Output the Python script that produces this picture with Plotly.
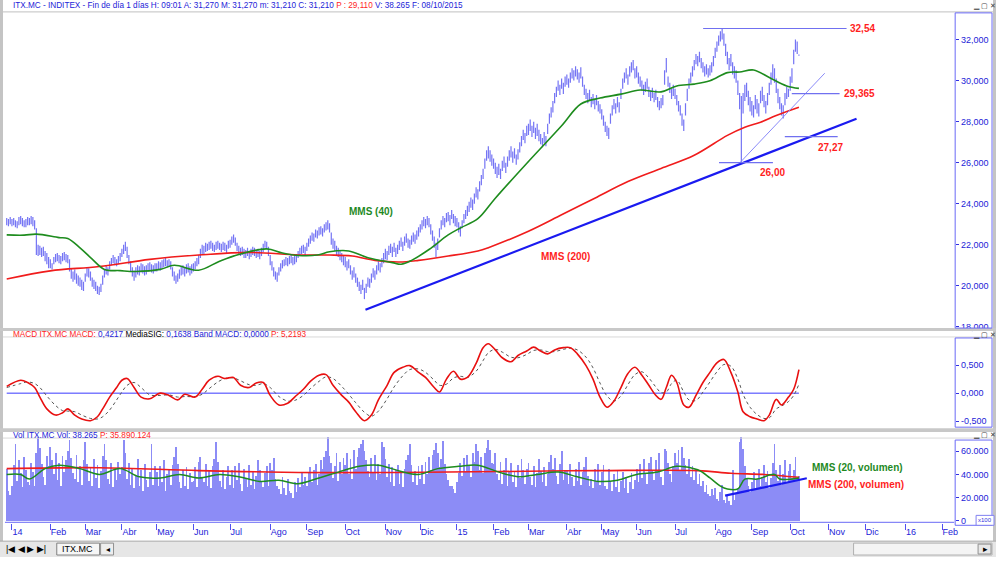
import pandas as pd
import plotly.graph_objects as go

# ---------------- data ----------------
holidays = ["2014-01-01", "2014-04-18", "2014-04-21", "2014-05-01", "2014-12-25", "2014-12-26",
            "2015-01-01", "2015-04-03", "2015-04-06", "2015-05-01"]

highs = [
    23.30, 23.25, 23.35,
    23.25, 23.30, 23.20, 23.15, 23.35, 23.40, 23.30, 23.20, 23.25, 23.35, 23.30, 23.40, 23.35, 23.20, 22.80, 22.00, 21.95, 21.85, 21.90, 21.70, 21.60, 21.40,
    21.30, 21.10, 21.40, 21.55, 21.60, 21.50, 21.45, 21.60, 21.65, 21.55, 21.50, 21.30, 20.85, 20.70, 20.80, 20.60, 20.50, 20.40, 20.30, 20.20,
    20.60, 20.90, 20.85, 20.70, 20.40, 20.30, 20.20, 20.00, 19.95, 20.10, 20.50, 20.80, 21.00, 20.90, 21.20, 21.35, 21.50, 21.40, 21.30, 21.45, 21.60,
    21.80, 22.00, 22.15, 21.90, 21.50, 21.20, 20.90, 20.75, 20.90, 21.00, 20.95, 21.10, 21.05, 20.95, 21.00, 21.10, 21.15, 21.05, 21.00, 21.10,
    21.10, 21.20, 21.15, 21.25, 21.30, 21.35, 21.25, 21.30, 21.20, 20.90, 20.70, 20.50, 20.60, 20.80, 20.95, 21.00, 20.90, 21.05, 21.10, 20.95, 21.05,
    21.10, 21.20, 21.35, 21.50, 21.80, 22.00, 21.95, 22.10, 22.05, 22.15, 22.20, 22.10, 22.00, 22.15, 22.20, 22.10, 22.05, 22.15, 22.10, 22.00, 22.20,
    22.25, 22.40, 22.50, 22.35, 22.10, 21.95, 21.85, 21.90, 21.80, 21.75, 21.85, 21.70, 21.80, 21.90, 21.85, 21.75, 21.80, 21.70, 21.85, 22.05, 22.20, 22.15, 21.90,
    21.50, 21.20, 20.90, 20.70, 20.65, 20.90, 21.10, 21.25, 21.30, 21.40, 21.35, 21.45, 21.50, 21.40, 21.45, 21.55, 21.70, 21.85, 21.95, 22.00, 21.90,
    22.10, 22.30, 22.45, 22.60, 22.55, 22.75, 22.70, 22.85, 22.90, 22.80, 23.00, 23.10, 23.20, 23.05, 22.60, 22.30, 22.20, 21.95, 21.85, 21.70, 21.60, 21.50,
    21.40, 21.20, 21.30, 21.00, 20.75, 20.90, 20.60, 20.40, 20.20, 20.05, 20.30, 19.90, 20.10, 20.40, 20.35, 20.60, 20.85, 20.75, 21.00, 21.20, 21.10, 21.35, 21.60,
    21.80, 21.70, 21.95, 22.05, 21.90, 22.10, 21.85, 22.00, 22.20, 22.35, 22.15, 22.40, 22.55, 22.30, 22.25, 22.45, 22.60, 22.50, 22.70, 22.85,
    23.00, 23.20, 23.35, 23.25, 23.40, 23.30, 23.00, 22.70, 22.40, 22.10, 22.30, 22.80, 23.20, 23.40, 23.30, 23.55, 23.60, 23.45, 23.70, 23.50, 23.40,
    23.30, 23.10, 22.90, 23.20, 23.50, 23.70, 23.90, 24.10, 24.30, 24.20, 24.50, 24.80, 24.70, 25.10, 25.40, 25.70, 26.20, 26.60, 26.80, 26.60, 26.40,
    26.20, 26.00, 25.80, 25.95, 25.70, 26.10, 26.30, 26.00, 26.30, 26.60, 26.80, 26.55, 26.70, 26.40, 26.65, 27.00, 27.30, 27.60, 27.45, 27.80,
    27.90, 28.10, 27.80, 28.00, 27.70, 27.90, 27.60, 27.40, 27.20, 27.50, 27.30, 27.90, 28.40, 28.70, 29.00, 29.40, 29.70, 30.00, 29.80, 30.10, 29.90, 30.20,
    30.30, 30.10, 30.40, 30.60, 30.50, 30.70, 30.55, 30.40, 30.65, 30.20, 29.80, 29.60, 29.40, 29.55, 29.20, 29.35, 29.10, 29.30, 29.00, 28.85,
    28.60, 28.30, 28.00, 27.80, 27.70, 28.40, 28.80, 29.10, 28.90, 29.20, 28.95, 29.60, 30.10, 30.40, 30.60, 30.30, 30.70, 30.90, 31.00, 30.60,
    30.70, 30.40, 30.20, 30.00, 29.80, 29.95, 30.10, 29.70, 29.50, 29.65, 29.40, 29.55, 29.20, 29.00, 29.15, 29.30, 30.50, 31.10, 30.20, 29.90, 29.60, 29.80,
    29.60, 29.30, 29.00, 28.80, 28.40, 28.10, 28.90, 29.60, 30.10, 30.40, 30.70, 31.00, 31.30, 31.20, 31.40, 31.10, 30.90, 30.70, 30.80, 30.60, 30.75, 30.90, 31.20,
    31.60, 31.90, 32.20, 32.40, 32.54, 32.30, 31.80, 31.40, 31.10, 31.30, 30.90, 30.70, 30.50, 30.00, 29.40, 29.25, 29.40, 29.80, 29.90, 29.50, 29.20,
    29.00, 28.80, 29.30, 29.10, 28.90, 29.50, 29.70, 29.30, 29.00, 29.40, 29.90, 30.40, 30.80, 30.60, 30.10, 29.60, 29.20, 28.90, 28.80, 29.40, 29.70, 29.60,
    30.20, 30.60, 31.50, 32.00, 31.90, 31.27,
]

lows = [
    22.95, 22.90, 23.00,
    22.90, 22.95, 22.85, 22.80, 22.95, 23.00, 22.90, 22.85, 22.85, 22.95, 22.95, 23.00, 22.90, 22.75, 21.50, 21.45, 21.50, 21.40, 21.45, 21.20, 21.05, 20.85,
    20.85, 20.80, 21.05, 21.15, 21.20, 21.10, 21.05, 21.20, 21.25, 21.15, 21.10, 20.70, 20.35, 20.20, 20.30, 20.10, 20.00, 19.95, 19.80, 19.75,
    20.20, 20.45, 20.40, 20.25, 19.95, 19.85, 19.75, 19.60, 19.55, 19.70, 20.05, 20.40, 20.55, 20.50, 20.80, 21.00, 21.10, 21.00, 20.95, 21.05, 21.20,
    21.40, 21.55, 21.70, 21.35, 21.05, 20.70, 20.45, 20.25, 20.40, 20.55, 20.50, 20.65, 20.60, 20.50, 20.55, 20.70, 20.75, 20.65, 20.60, 20.70,
    20.70, 20.80, 20.75, 20.85, 20.90, 20.95, 20.90, 20.95, 20.80, 20.45, 20.25, 20.10, 20.20, 20.35, 20.50, 20.55, 20.45, 20.60, 20.65, 20.50, 20.60,
    20.70, 20.80, 20.95, 21.05, 21.35, 21.55, 21.50, 21.65, 21.70, 21.75, 21.80, 21.70, 21.65, 21.75, 21.80, 21.75, 21.65, 21.75, 21.70, 21.60, 21.80,
    21.85, 22.00, 22.10, 21.95, 21.70, 21.55, 21.45, 21.50, 21.35, 21.35, 21.45, 21.30, 21.40, 21.50, 21.45, 21.35, 21.40, 21.30, 21.45, 21.65, 21.85, 21.80, 21.45,
    21.00, 20.75, 20.45, 20.30, 20.20, 20.50, 20.70, 20.85, 20.95, 21.00, 20.95, 21.05, 21.10, 21.00, 21.05, 21.15, 21.35, 21.45, 21.55, 21.60, 21.50,
    21.70, 21.90, 22.05, 22.20, 22.15, 22.35, 22.30, 22.45, 22.50, 22.40, 22.60, 22.70, 22.75, 22.60, 22.00, 21.80, 21.70, 21.50, 21.40, 21.25, 21.15, 21.00,
    20.90, 20.75, 20.85, 20.55, 20.30, 20.40, 20.15, 19.95, 19.75, 19.60, 19.80, 19.35, 19.65, 19.95, 19.90, 20.15, 20.40, 20.30, 20.55, 20.75, 20.65, 20.90, 21.10,
    21.30, 21.25, 21.50, 21.60, 21.40, 21.65, 21.40, 21.55, 21.75, 21.90, 21.70, 21.95, 22.10, 21.85, 21.80, 22.00, 22.15, 22.05, 22.25, 22.40,
    22.60, 22.75, 22.90, 22.80, 22.95, 22.85, 22.50, 22.20, 21.85, 21.40, 21.75, 22.35, 22.75, 22.95, 22.85, 23.10, 23.15, 22.95, 23.25, 23.05, 22.90,
    22.85, 22.60, 22.40, 22.80, 23.05, 23.25, 23.40, 23.60, 23.80, 23.70, 24.00, 24.30, 24.20, 24.60, 24.90, 25.20, 25.70, 26.10, 26.20, 26.05, 25.85,
    25.70, 25.45, 25.25, 25.40, 25.20, 25.60, 25.75, 25.50, 25.80, 26.10, 26.25, 26.00, 26.20, 25.90, 26.15, 26.50, 26.80, 27.10, 26.95, 27.30,
    27.35, 27.55, 27.25, 27.45, 27.15, 27.30, 27.05, 26.90, 26.75, 26.95, 26.80, 27.40, 27.90, 28.20, 28.45, 28.90, 29.20, 29.50, 29.30, 29.60, 29.35, 29.70,
    29.80, 29.65, 29.90, 30.10, 30.00, 30.20, 30.05, 29.90, 30.10, 29.70, 29.30, 29.10, 28.90, 29.05, 28.70, 28.85, 28.60, 28.80, 28.50, 28.40,
    28.10, 27.80, 27.50, 27.30, 27.15, 27.90, 28.30, 28.60, 28.40, 28.70, 28.45, 29.10, 29.60, 29.90, 30.10, 29.80, 30.20, 30.40, 30.50, 30.10,
    30.15, 29.85, 29.70, 29.50, 29.30, 29.45, 29.60, 29.20, 29.00, 29.15, 28.95, 29.05, 28.70, 28.55, 28.65, 28.80, 29.80, 30.40, 29.70, 29.40, 29.10, 29.25,
    29.10, 28.80, 28.50, 28.30, 27.80, 27.55, 28.30, 29.00, 29.60, 29.90, 30.20, 30.50, 30.80, 30.70, 30.90, 30.60, 30.40, 30.20, 30.30, 30.15, 30.25, 30.40, 30.70,
    31.10, 31.40, 31.70, 31.90, 32.00, 31.70, 31.20, 30.80, 30.50, 30.70, 30.30, 30.10, 29.90, 29.30, 28.60, 26.00, 28.40, 29.00, 29.20, 28.80, 28.50,
    28.30, 28.20, 28.60, 28.40, 28.25, 28.90, 29.00, 28.70, 28.40, 28.80, 29.30, 29.80, 30.10, 29.90, 29.40, 28.90, 28.60, 28.30, 28.15, 28.80, 29.10, 29.20,
    29.50, 29.90, 30.80, 31.40, 31.30, 31.21,
]

# daily volume, thousands (x100 shares)
volume_k = [
    45, 26, 22,
    30, 48, 66, 34, 52, 41, 29, 55, 44, 33, 31, 50, 42, 30, 58, 72, 63, 49, 38, 31, 56, 47,
    64, 52, 40, 58, 35, 50, 30, 56, 42, 52, 60, 70, 54, 41, 36, 57, 33, 47, 31, 52,
    68, 49, 34, 46, 30, 53, 37, 48, 28, 43, 56, 66, 52, 36, 32, 50, 29, 45, 35, 51, 40,
    46, 70, 58, 36, 50, 31, 45, 28, 39, 53, 30, 44, 26, 49, 35, 29, 42, 66, 31, 47,
    42, 30, 47, 33, 52, 26, 40, 45, 31, 48, 55, 64, 49, 33, 28, 44, 30, 46, 27, 41, 33,
    34, 46, 29, 51, 55, 38, 33, 49, 30, 43, 28, 47, 53, 68, 51, 34, 29, 44, 27, 38, 47,
    31, 44, 28, 47, 35, 50, 32, 26, 45, 37, 29, 48, 31, 43, 27, 39, 52, 44, 33, 29, 41, 47, 30,
    50, 44, 54, 36, 30, 27, 23, 38, 28, 22, 36, 26, 24, 20, 33, 25, 37, 29, 42, 31, 38,
    30, 41, 46, 33, 44, 49, 31, 40, 52, 45, 55, 60, 72, 56, 50, 37, 47, 58, 34, 51, 40, 54,
    48, 58, 40, 53, 36, 61, 45, 55, 63, 66, 70, 60, 52, 43, 38, 54, 41, 57, 35, 49, 40, 68, 64,
    53, 38, 49, 33, 46, 30, 44, 48, 32, 42, 29, 45, 52, 57, 66, 48, 33, 43, 31, 47,
    36, 48, 32, 51, 40, 55, 44, 57, 61, 67, 58, 46, 53, 69, 49, 40, 35, 30, 30, 27, 24,
    33, 41, 50, 39, 54, 42, 57, 48, 38, 58, 51, 66, 60, 44, 55, 41, 58, 63, 70, 61, 50,
    49, 58, 40, 35, 51, 32, 44, 54, 30, 43, 50, 33, 42, 29, 48, 37, 53, 44, 32, 45,
    50, 38, 31, 47, 29, 41, 53, 43, 33, 46, 30, 40, 51, 57, 45, 54, 39, 32, 49, 60, 35, 44,
    44, 32, 49, 38, 30, 45, 34, 51, 31, 42, 46, 55, 39, 30, 36, 28, 45, 33, 49, 31,
    42, 48, 30, 27, 45, 33, 26, 40, 29, 44, 25, 34, 42, 28, 38, 24, 33, 41, 27, 35,
    45, 33, 49, 37, 53, 41, 32, 50, 55, 44, 35, 52, 43, 58, 38, 31, 62, 60, 50, 40, 33, 47,
    58, 50, 61, 44, 64, 54, 48, 40, 53, 38, 47, 35, 44, 32, 40, 30, 34, 25, 31, 23, 21, 27, 22,
    28, 19, 17, 25, 31, 18, 15, 22, 17, 14, 44, 18, 24, 28, 68, 72, 62, 47, 36, 30, 25,
    33, 42, 27, 36, 45, 30, 38, 48, 33, 43, 28, 37, 50, 66, 44, 34, 48, 31, 40, 52, 33, 43,
    49, 37, 44, 55, 36, 38.3,
]

# moving averages (trading-day index -> value)
ma40_idx = [0, 10, 17, 30, 35, 42, 49, 56, 65, 74, 88, 96, 110, 122, 133, 149, 158, 167, 178, 185,
            196, 207, 221, 226, 232, 242, 253, 260, 270, 280, 299, 318, 329, 340, 352, 363, 375, 384,
            394, 403, 413, 420, 428, 437, 447, 454]
ma40_vals = [22.48, 22.47, 22.52, 22.35, 22.30, 21.85, 21.30, 20.80, 20.74, 20.70, 20.80, 21.00, 20.76,
             21.20, 21.53, 21.80, 21.60, 21.48, 21.50, 21.66, 21.70, 21.37, 21.13, 21.05, 21.24, 21.77,
             22.48, 22.82, 23.27, 24.27, 26.06, 27.80, 28.86, 29.15, 29.34, 29.54, 29.45, 29.74, 29.83,
             29.99, 30.39, 30.42, 30.52, 30.15, 29.74, 29.62]
ma200_idx = [0, 25, 53, 82, 110, 139, 167, 185, 198, 211, 225, 236, 253, 270, 276, 299, 318, 337, 356,
             375, 394, 413, 423, 432, 441, 454]
ma200_vals = [20.33, 20.73, 20.94, 21.29, 21.50, 21.63, 21.50, 21.50, 21.45, 21.24, 21.16, 21.24, 21.45,
              21.70, 21.86, 22.66, 23.46, 24.27, 25.08, 25.72, 26.36, 27.33, 27.73, 27.97, 28.30, 28.70]

macd_idx = [0, 8, 12, 16, 19, 23, 28, 32, 35, 39, 43, 48, 52, 55, 59, 63, 66, 69, 73, 77,
            82, 88, 93, 98, 102, 108, 112, 116, 121, 125, 130, 134, 139, 143, 147, 151, 156, 161, 165, 170,
            174, 179, 183, 187, 192, 196, 200, 205, 209, 213, 218, 222, 227, 231, 236, 240, 245, 248, 252, 256,
            260, 264, 269, 273, 276, 280, 284, 289, 293, 298, 302, 306, 310, 314, 319, 323, 327, 332, 336, 340,
            344, 348, 352, 356, 360, 364, 368, 372, 375, 378, 381, 384, 388, 391, 395, 399, 403, 407, 411, 415,
            419, 422, 426, 430, 434, 437, 441, 444, 448, 451, 454]
macd_vals = [0.12, 0.23, 0.19, 0.10, -0.07, -0.28, -0.39, -0.35, -0.28, -0.39,
             -0.46, -0.49, -0.42, -0.28, -0.07, 0.10, 0.23, 0.26, 0.10, -0.07,
             -0.10, 0.00, -0.04, -0.12, -0.02, -0.07, 0.07, 0.23, 0.30, 0.26,
             0.28, 0.14, 0.10, 0.18, 0.19, -0.04, -0.21, -0.18, -0.07, 0.07,
             0.21, 0.32, 0.33, 0.14, -0.04, -0.16, -0.33, -0.49, -0.39, -0.12,
             0.14, 0.37, 0.46, 0.49, 0.37, 0.28, 0.10, 0.02, 0.25, 0.39,
             0.25, 0.28, 0.53, 0.81, 0.88, 0.77, 0.63, 0.56, 0.67, 0.75,
             0.82, 0.75, 0.70, 0.77, 0.81, 0.81, 0.70, 0.49, 0.25, -0.07,
             -0.25, -0.14, 0.10, 0.35, 0.46, 0.32, 0.14, -0.04, -0.11, 0.10,
             0.32, 0.19, -0.21, -0.25, -0.04, 0.19, 0.37, 0.54, 0.60, 0.37,
             0.02, -0.33, -0.42, -0.46, -0.49, -0.39, -0.11, -0.21, -0.07, 0.07,
             0.42]
signal_vals = [0.10, 0.17, 0.20, 0.17, 0.10, -0.05, -0.22, -0.31, -0.32, -0.33,
               -0.39, -0.45, -0.46, -0.42, -0.30, -0.12, 0.02, 0.14, 0.19, 0.10,
               -0.03, -0.04, -0.03, -0.07, -0.06, -0.06, -0.02, 0.08, 0.20, 0.26,
               0.27, 0.22, 0.15, 0.14, 0.17, 0.10, -0.06, -0.14, -0.13, -0.04,
               0.08, 0.21, 0.29, 0.26, 0.12, -0.02, -0.17, -0.34, -0.41, -0.32,
               -0.10, 0.11, 0.31, 0.42, 0.43, 0.37, 0.23, 0.14, 0.16, 0.27,
               0.30, 0.28, 0.39, 0.58, 0.72, 0.78, 0.73, 0.64, 0.63, 0.69,
               0.76, 0.77, 0.74, 0.74, 0.78, 0.80, 0.77, 0.64, 0.45, 0.18,
               -0.05, -0.14, -0.05, 0.15, 0.33, 0.38, 0.27, 0.11, 0.01, 0.02,
               0.17, 0.23, 0.02, -0.12, -0.13, 0.02, 0.20, 0.38, 0.51, 0.48,
               0.25, -0.02, -0.25, -0.38, -0.45, -0.44, -0.28, -0.23, -0.15, -0.04,
               0.16]
macd_band = 0.0

vma20_idx = [0, 8, 13, 22, 30, 42, 53, 65, 76, 88, 99, 110, 122, 133, 145, 156, 167, 179, 190, 202,
             213, 225, 236, 247, 259, 270, 282, 293, 304, 316, 327, 339, 350, 361, 373, 384, 396, 403,
             409, 413, 419, 423, 430, 440, 443, 454]
vma20_vals = [40, 40, 36, 45, 48, 45, 40, 45, 38, 37, 40, 37, 40, 38, 34, 35, 32, 37, 42, 47,
              48, 43, 40, 45, 47, 48, 42, 38, 40, 42, 38, 34, 35, 40, 42, 47, 44, 37,
              30, 27.5, 27.5, 36, 36, 40, 36, 37]
vma200_idx = [0, 53, 110, 167, 224, 282, 339, 396, 415, 434, 454]
vma200_vals = [45, 45.8, 43.3, 41.7, 41.7, 42.5, 43.3, 43.3, 41, 40, 37.5]

# drawn objects (trading-day index, value)
trend_price = ([205.6, 487.0], [18.83, 28.14])
trend_thin = ([420.2, 468.8], [26.00, 30.36])
trend_vol = ([411.7, 458.5], [21.7, 36.7])
levels = {"32,54": (32.54, 399.1, 481.3), "29,365": (29.365, 449.9, 477.3),
          "27,27": (27.27, 445.9, 476.2), "26,00": (26.00, 408.2, 439.1)}

tick_labels = ["14", "Feb", "Mar", "Abr", "May", "Jun", "Jul", "Ago", "Sep", "Oct", "Nov", "Dic",
               "15", "Feb", "Mar", "Abr", "May", "Jun", "Jul", "Ago", "Sep", "Oct", "Nov", "Dic",
               "16", "Feb"]
price_ticks = [18, 20, 22, 24, 26, 28, 30, 32]
price_tick_text = ["18,000", "20,000", "22,000", "24,000", "26,000", "28,000", "30,000", "32,000"]
macd_ticks = [-0.5, 0.0, 0.5]
macd_tick_text = ["-0,500", "0,000", "0,500"]
vol_ticks = [0, 20000, 40000, 60000]
vol_tick_text = ["0", "20.000", "40.000", "60.000"]

# ---------------- calendar ----------------
days = pd.bdate_range("2013-12-27", "2016-03-31")
days = days[~days.isin(pd.to_datetime(holidays))]
months = pd.date_range("2014-01-01", "2016-02-01", freq="MS")
tick_pos = [int(days.searchsorted(m)) for m in months]
n = len(highs)
idx = list(range(n))

# ---------------- helpers ----------------
W, H = 1000, 562
def px(x):
    return x / W
def py(y):
    return 1 - y / H

BLUE_TXT = "#2323d8"
RED_TXT = "#ff1e1e"
GREEN_TXT = "#1f8a1f"
FONT = "Liberation Sans, Arial, sans-serif"

fig = go.Figure()

# price bars as high-low strokes
bx, by = [], []
for i in idx:
    bx += [i, i, None]
    by += [lows[i], highs[i], None]
fig.add_trace(go.Scatter(x=bx, y=by, mode="lines", line=dict(color="#7474f4", width=1.2),
                         xaxis="x", yaxis="y", hoverinfo="skip"))
fig.add_trace(go.Scatter(x=ma200_idx, y=ma200_vals, mode="lines", line=dict(color="#f01c1c", width=1.6, shape="spline"),
                         xaxis="x", yaxis="y"))
fig.add_trace(go.Scatter(x=ma40_idx, y=ma40_vals, mode="lines", line=dict(color="#1e8c1e", width=1.6, shape="spline"),
                         xaxis="x", yaxis="y"))
fig.add_trace(go.Scatter(x=trend_price[0], y=trend_price[1], mode="lines", line=dict(color="#1a1af0", width=2.2),
                         xaxis="x", yaxis="y"))
fig.add_trace(go.Scatter(x=trend_thin[0], y=trend_thin[1], mode="lines", line=dict(color="#8a8af8", width=1),
                         xaxis="x", yaxis="y"))
for name, (lv, x0, x1) in levels.items():
    fig.add_trace(go.Scatter(x=[x0, x1], y=[lv, lv], mode="lines", line=dict(color="#7070f0", width=1.2),
                             xaxis="x", yaxis="y"))

# MACD
fig.add_trace(go.Scatter(x=[0, n - 1], y=[macd_band, macd_band], mode="lines", line=dict(color="#3a3aff", width=1),
                         xaxis="x2", yaxis="y2"))
fig.add_trace(go.Scatter(x=macd_idx, y=signal_vals, mode="lines",
                         line=dict(color="#555555", width=1, dash="dot", shape="spline"), xaxis="x2", yaxis="y2"))
fig.add_trace(go.Scatter(x=macd_idx, y=macd_vals, mode="lines",
                         line=dict(color="#e81010", width=1.6, shape="spline"), xaxis="x2", yaxis="y2"))

# Volume
fig.add_trace(go.Bar(x=idx, y=[v * 1000 for v in volume_k], width=0.5,
                     marker=dict(color="#8c8cf6", line=dict(width=0)), xaxis="x3", yaxis="y3"))
fig.add_trace(go.Scatter(x=vma200_idx, y=[v * 1000 for v in vma200_vals], mode="lines",
                         line=dict(color="#f01c1c", width=1.6, shape="spline"), xaxis="x3", yaxis="y3"))
fig.add_trace(go.Scatter(x=vma20_idx, y=[v * 1000 for v in vma20_vals], mode="lines",
                         line=dict(color="#1e8c1e", width=1.5, shape="spline"), xaxis="x3", yaxis="y3"))
fig.add_trace(go.Scatter(x=trend_vol[0], y=[v * 1000 for v in trend_vol[1]], mode="lines",
                         line=dict(color="#1a1af0", width=2.2), xaxis="x3", yaxis="y3"))

xr = [-0.99, 542.96]
xdom = [px(5), px(958)]
axis_common = dict(showgrid=False, zeroline=False, showline=False)

fig.update_layout(
    width=W, height=H, autosize=False, margin=dict(l=0, r=0, t=0, b=0),
    paper_bgcolor="white", plot_bgcolor="white", showlegend=False, bargap=0,
    separators=",.", font=dict(family=FONT, size=9, color=BLUE_TXT),
    xaxis=dict(domain=xdom, range=xr, anchor="y", showticklabels=False, ticks="", **axis_common),
    xaxis2=dict(domain=xdom, range=xr, anchor="y2", showticklabels=False, ticks="", **axis_common),
    xaxis3=dict(domain=xdom, range=xr, anchor="y3", tickvals=tick_pos, ticktext=tick_labels,
                ticks="outside", ticklen=6, tickcolor="#5050f0", tickwidth=1,
                ticklabelposition="outside right",
                tickfont=dict(family=FONT, size=9, color=BLUE_TXT), **axis_common),
    yaxis=dict(domain=[py(330), py(13)], range=[17.99, 33.30], anchor="free", position=px(959), side="right",
               tickvals=price_ticks, ticktext=price_tick_text, ticks="outside", ticklen=3,
               tickcolor="#3030e0", tickfont=dict(family=FONT, size=9, color=BLUE_TXT), **axis_common),
    yaxis2=dict(domain=[py(432), py(334)], range=[-0.623, 1.106], anchor="free", position=px(959), side="right",
                tickvals=macd_ticks, ticktext=macd_tick_text, ticks="outside", ticklen=3,
                tickcolor="#3030e0", tickfont=dict(family=FONT, size=9, color=BLUE_TXT), **axis_common),
    yaxis3=dict(domain=[py(528), py(441)], range=[-2140, 72200], anchor="free", position=px(959), side="right",
                tickvals=vol_ticks, ticktext=vol_tick_text, ticks="outside", ticklen=3,
                tickcolor="#3030e0", tickfont=dict(family=FONT, size=9, color=BLUE_TXT), **axis_common),
)

shapes = []
def rect(x0, y0, x1, y1, fill=None, line=None, lw=1):
    shapes.append(dict(type="rect", xref="paper", yref="paper", x0=px(x0), x1=px(x1), y0=py(y1), y1=py(y0),
                       fillcolor=fill if fill else "rgba(0,0,0,0)",
                       line=dict(color=line if line else "rgba(0,0,0,0)", width=lw if line else 0),
                       layer="above"))
def hline(y, x0, x1, color, w=1):
    shapes.append(dict(type="line", xref="paper", yref="paper", x0=px(x0), x1=px(x1), y0=py(y), y1=py(y),
                       line=dict(color=color, width=w), layer="above"))

# window chrome
rect(0, 0, 3, 546, fill="#c4c4c4")
rect(997, 0, 1000, 546, fill="#c4c4c4")
rect(0, 331, 1000, 334, fill="#c8c8c8")
rect(0, 432, 1000, 436, fill="#c8c8c8")
hline(12, 3, 997, "#c0c0c0")
hline(340, 3, 997, "#d8d8d8")
hline(442, 3, 997, "#d8d8d8")
# axis columns
rect(959, 13, 996, 331, line="#6a6af6")
rect(959, 341, 996, 431, line="#6a6af6")
rect(959, 444, 996, 530, line="#6a6af6")
# volume baseline
hline(527, 5, 958, "#6a6af6")
# bottom bar
rect(0, 546, 1000, 562, fill="#e6e6e6")
hline(546, 0, 1000, "#a8a8a8")
rect(57, 548, 100, 560, fill="#f6f6f6", line="#808080")
rect(101, 548, 114, 560, fill="#eeeeee", line="#909090")
rect(857, 548, 996, 560, fill="#f4f4f4", line="#b0b0b0")
rect(982, 549, 995, 559, fill="#e8e8e8", line="#909090")
rect(980, 520, 998, 530, fill="white", line="#8080f0")
fig.update_layout(shapes=shapes)

ann = []
def text(x, y, s, color, size=9, bold=False, xanchor="left", xref="paper", yref="paper", yanchor="middle"):
    ann.append(dict(x=x, y=y, xref=xref, yref=yref, text=("<b>%s</b>" % s) if bold else s, showarrow=False,
                    xanchor=xanchor, yanchor=yanchor, font=dict(family=FONT, size=size, color=color)))

B = BLUE_TXT
R = RED_TXT
HS = 8.2
text(px(11), py(6),
     f'<span style="color:{B}">ITX.MC - INDITEX - Fin de día 1 días H: 09:01 A: 31,270 M: 31,270 m: 31,210 C: 31,210 </span>'
     f'<span style="color:{R}">P : 29,110</span><span style="color:{B}"> V: 38.265 F: 08/10/2015</span>', B, size=HS)
text(px(11), py(337),
     f'<span style="color:{R}">MACD ITX.MC MACD: </span><span style="color:{B}">0,4217 </span>'
     f'<span style="color:#000000">MediaSIG: </span><span style="color:{B}">0,1638 Band MACD: 0,0000 </span>'
     f'<span style="color:{R}">P: 5,2193</span>', B, size=HS)
text(px(11), py(439),
     f'<span style="color:{B}">Vol ITX.MC Vol: 38.265 </span><span style="color:{R}">P: 35.890.124</span>', B, size=HS)

# window buttons
for yb in (6, 338, 439):
    text(px(975), py(yb), "▁ ▢ ✕", "#404040", size=6.5)

# chart labels
text(490.4, 32.54, "32,54", R, size=10, bold=True, xanchor="center", xref="x", yref="y")
text(488.7, 29.365, "29,365", R, size=10, bold=True, xanchor="center", xref="x", yref="y")
text(472.2, 26.73, "27,27", R, size=10, bold=True, xanchor="center", xref="x", yref="y")
text(438.8, 25.53, "26,00", R, size=10, bold=True, xanchor="center", xref="x", yref="y")
text(209.0, 23.64, "MMS (40)", GREEN_TXT, size=10, bold=True, xanchor="center", xref="x", yref="y")
text(320.4, 21.42, "MMS (200)", R, size=10, bold=True, xanchor="center", xref="x", yref="y")
text(460.2, 45700, "MMS (20, volumen)", GREEN_TXT, size=10, bold=True, xref="x3", yref="y3")
text(457.9, 31200, "MMS (200, volumen)", R, size=10, bold=True, xref="x3", yref="y3")

# bottom bar texts
text(px(4), py(554), "|◀ ◀ ▶ ▶|", "#000000", size=9)
text(px(60), py(554), "ITX.MC", "#000000", size=9)
text(px(104), py(554), "◂", "#000000", size=8)
text(px(985), py(554), "▸", "#000000", size=9)
text(px(989), py(525), "x100", "#3030e0", size=6, xanchor="center")
fig.update_layout(annotations=ann)

fig.write_html("out.html")
